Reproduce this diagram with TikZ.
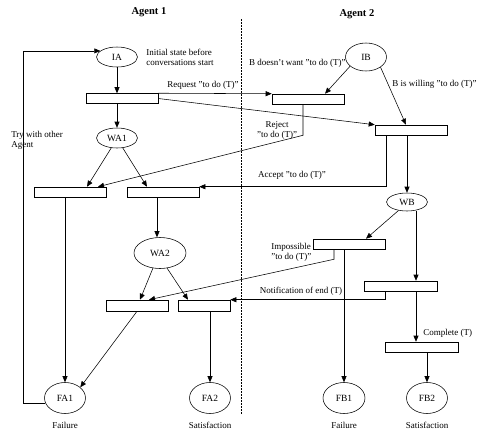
\documentclass[tikz,border=0pt]{standalone}
\usepackage{fontspec}
\setmainfont{Liberation Serif}
\usetikzlibrary{shapes.geometric,arrows.meta}

\tikzset{
  place/.style={ellipse, draw, inner sep=0pt, minimum width=41pt, minimum height=31pt, font=\fontsize{9.5}{11}\selectfont},
  trans/.style={rectangle, draw, inner sep=0pt, minimum width=72pt, minimum height=10pt},
  lbl/.style={font=\fontsize{9}{10}\selectfont, inner sep=0pt},
  arr/.style={-{Triangle[length=6pt,width=5pt]}}
}

\begin{document}
\begin{tikzpicture}[x=1pt, y=-1pt, line width=0.55pt]
            \useasboundingbox (0,0) rectangle (480,437);
            \node[font=\fontsize{10.5}{12}\selectfont\bfseries] (agentA) at (149,12) {Agent 1};
            \node[font=\fontsize{10.5}{12}\selectfont\bfseries] (agentB) at (357,14) {Agent 2};
            \draw[dash pattern=on 2pt off 1pt] (241,19) -- (241,414);

            \node[place, minimum height=20pt] (ia) at (117,57) {IA};
            \node[place, minimum height=28pt] (ib) at (366,57) {IB};
            \node[place, minimum height=20pt] (wa1) at (117,138) {WA1};
            \node[place, minimum height=18pt] (wb) at (407,202) {WB};
            \node[place, minimum width=52pt] (wa2) at (160,253) {WA2};
            \node[place] (fa1) at (65,398) {FA1};
            \node[place] (fa2) at (210,398) {FA2};
            \node[place, minimum width=42pt] (fb1) at (344,398) {FB1};
            \node[place] (fb2) at (427,398) {FB2};

            \node[trans] (t1) at (122,98.5) {};
            \node[trans] (t2) at (308,99) {};
            \node[trans] (t3) at (411,130) {};
            \node[trans] (t4) at (70,192) {};
            \node[trans] (t5) at (163,192) {};
            \node[trans] (t6) at (349,244) {};
            \node[trans, minimum width=73pt] (t7) at (400.5,286) {};
            \node[trans, minimum width=62pt, minimum height=11pt] (t8) at (137,305.5) {};
            \node[trans, minimum width=52pt, minimum height=11pt] (t9) at (204,305.5) {};
            \node[trans, minimum width=73pt] (t10) at (421.5,347) {};

            \draw[arr] (ia.south) -- (ia.south |- t1.north);
            \draw[arr] (t1.south -| wa1) -- (wa1.north);
            \draw[arr] (wa1.-120) -- ([xshift=17pt]t4.north);
            \draw[arr] (wa1.-60) -- ([xshift=-16pt]t5.north);
            \draw[arr] (t1.north east) -- (t2.north west);
            \draw[arr] (t1.east) -- (t3.north west);
            \draw[arr] (ib.-150) -- ([xshift=17pt]t2.north);
            \draw[arr] (ib.-35) -- ([xshift=-5pt]t3.north);
            \draw[arr] ([xshift=-5pt]t2.south) -- ++(0,31) -- ([xshift=28pt]t4.north);
            \draw[arr] ([xshift=-25pt]t3.south) |- (t5.north east);
            \draw[arr] (t3.south -| wb) -- (wb.north);
            \draw[arr] (wb.-135) -- ([xshift=17pt]t6.north);
            \draw[arr] ([xshift=15.5pt]t7.north |- wb.south) -- ([xshift=15.5pt]t7.north);
            \draw[arr] (t6.south -| fb1) -- (fb1.north);
            \draw[arr] ([xshift=-15pt]t6.south) -- ++(0,10) -- ([xshift=12pt]t8.north);
            \draw[arr] ([xshift=-15.5pt]t7.south) |- (t9.north east);
            \draw[arr] ([xshift=15.5pt]t7.south) -- ([xshift=15.5pt]t7.south |- t10.north);
            \draw[arr] (t10.south -| fb2) -- (fb2.north);
            \draw[arr] (t5.south -| 157,0) -- (wa2.north -| 157,0);
            \draw[arr] (wa2.-115) -- ([xshift=3pt]t8.north);
            \draw[arr] (wa2.-65) -- ([xshift=-16pt]t9.north);
            \draw[arr] (t8.south) -- (fa1.35);
            \draw[arr] (t9.south -| fa2) -- (fa2.north);
            \draw[arr] (t4.south -| fa1) -- (fa1.north);
            \draw[arr] (fa1.195) -- ++(-22,0) |- (ia.160);

            \node[lbl, align=left, anchor=west] (initlbl) at (146,57.5) {Initial state before\\conversations start};
            \node[lbl] (reqlbl) at (203,85) {Request "to do (T)"};
            \node[lbl, anchor=east] (nowantlbl) at (346,63) {B doesn't want "to do (T)"};
            \node[lbl, anchor=west] (willlbl) at (392,84) {B is willing "to do (T)"};
            \node[lbl, align=center] (rejlbl) at (277,130) {Reject\\"to do (T)"};
            \node[lbl] (acclbl) at (292,175) {Accept "to do (T)"};
            \node[lbl, align=left, anchor=west] (implbl) at (271,252) {Impossible\\"to do (T)"};
            \node[lbl] (notiflbl) at (301,291) {Notification of end (T)};
            \node[lbl, anchor=west] (complbl) at (423,333) {Complete (T)};
            \node[lbl, align=left, anchor=west] (trylbl) at (11,140) {Try with other\\Agent};
            \node[lbl] (fa1lbl) at (65,425) {Failure};
            \node[lbl] (fa2lbl) at (210,425) {Satisfaction};
            \node[lbl] (fb1lbl) at (344,425) {Failure};
            \node[lbl] (fb2lbl) at (427,425) {Satisfaction};
        \end{tikzpicture}
\end{document}
